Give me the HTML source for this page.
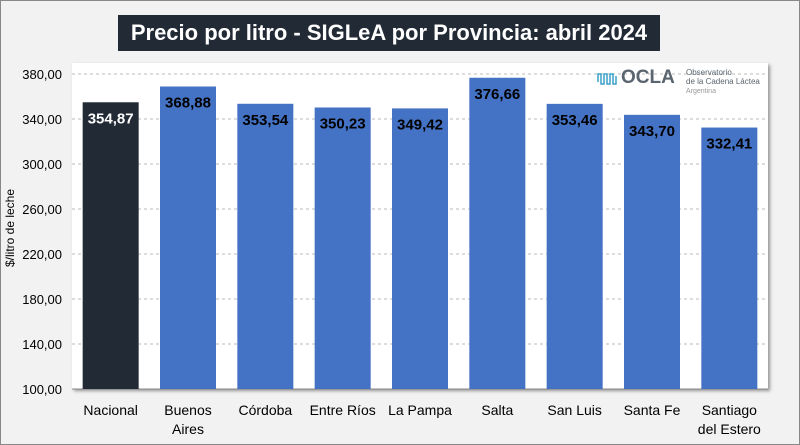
<!DOCTYPE html>
<html><head><meta charset="utf-8"><style>
body{margin:0;width:800px;height:445px;background:#f2f2f2;font-family:"Liberation Sans",sans-serif;overflow:hidden}
#frame{position:absolute;left:0;top:0;width:798px;height:443px;border:1px solid #888;}
#title{position:absolute;left:118px;top:15px;width:542px;height:36px;background:#222a35;color:#fff;font-weight:bold;font-size:22px;line-height:36px;text-align:center;white-space:nowrap}
</style></head><body>
<div id="frame"></div>
<div id="title">Precio por litro - SIGLeA por Provincia: abril 2024</div>
<svg id="c" width="800" height="445" style="position:absolute;left:0;top:0">
<defs><filter id="sh" x="-5%" y="-5%" width="110%" height="110%"><feDropShadow dx="2" dy="2" stdDeviation="1.5" flood-color="#555" flood-opacity="0.6"/></filter></defs>
<rect x="72" y="63" width="696" height="326" fill="#fff" filter="url(#sh)"/>
<g id="grid"></g><g id="bars"></g><g id="ticks"></g><g id="cats"></g>
<text transform="translate(14,228) rotate(-90)" text-anchor="middle" font-size="12" fill="#000">$/litro de leche</text>
<g>
<path d="M598 82 v-8 h3 v10 h3 v-10 h3 v10 h3 v-10 h3 v10 h3 v-8" fill="none" stroke="#3aa0c8" stroke-width="1.5"/>
<text x="621" y="83" font-size="19" font-weight="bold" fill="#5a6570">OCLA</text>
<text x="686" y="75" font-size="8" fill="#5a6570">Observatorio</text>
<text x="686" y="84" font-size="8" fill="#5a6570">de la Cadena Láctea</text>
<text x="686" y="93" font-size="7" fill="#999">Argentina</text>
</g>
</svg>
<script>
const categories=["Nacional","Buenos|Aires","Córdoba","Entre Ríos","La Pampa","Salta","San Luis","Santa Fe","Santiago|del Estero"];
const values=[354.87,368.88,353.54,350.23,349.42,376.66,353.46,343.70,332.41];
const valueLabels=["354,87","368,88","353,54","350,23","349,42","376,66","353,46","343,70","332,41"];
const yTicks=[100,140,180,220,260,300,340,380];
const yTickLabels=["100,00","140,00","180,00","220,00","260,00","300,00","340,00","380,00"];
const NS="http://www.w3.org/2000/svg";
const X0=72,W=696,Y0=389,Ymin=100,Ymax=380,Ytop=74;
const y=v=>Y0-(v-Ymin)/(Ymax-Ymin)*(Y0-Ytop);
const bw=W/categories.length;
const xc=i=>X0+bw*(i+0.5);
function el(t,a,p,txt){const e=document.createElementNS(NS,t);for(const k in a)e.setAttribute(k,a[k]);if(txt!==undefined)e.textContent=txt;document.getElementById(p).appendChild(e);return e;}
yTicks.forEach((t,i)=>{
 if(t>Ymin){const g=el('line',{x1:X0,x2:X0+W,y1:y(t),y2:y(t),stroke:'#bbb','stroke-dasharray':'3,3'},'grid');
 
 }
 const l=el('text',{x:62,y:y(t)+5,'text-anchor':'end','font-size':13},'ticks',yTickLabels[i]);
 
 
});
el('line',{x1:X0,x2:X0+W,y1:Y0,y2:Y0,stroke:'#888'},'grid');
values.forEach((v,i)=>{
 const r=el('rect',{x:xc(i)-28,y:y(v),width:56,height:Y0-y(v),fill:i==0?'#222a35':'#4472c4'},'bars');
 
 
 const t=el('text',{x:xc(i),y:y(v)+21,'text-anchor':'middle','font-size':15,'font-weight':'bold',fill:i==0?'#fff':'#000'},'bars',valueLabels[i]);
 
 
 categories[i].split('|').forEach((s,j)=>{
  const c=el('text',{x:xc(i),y:415+j*19,'text-anchor':'middle','font-size':14},'cats',s);
  
  
 });
});
</script>
</body></html>
